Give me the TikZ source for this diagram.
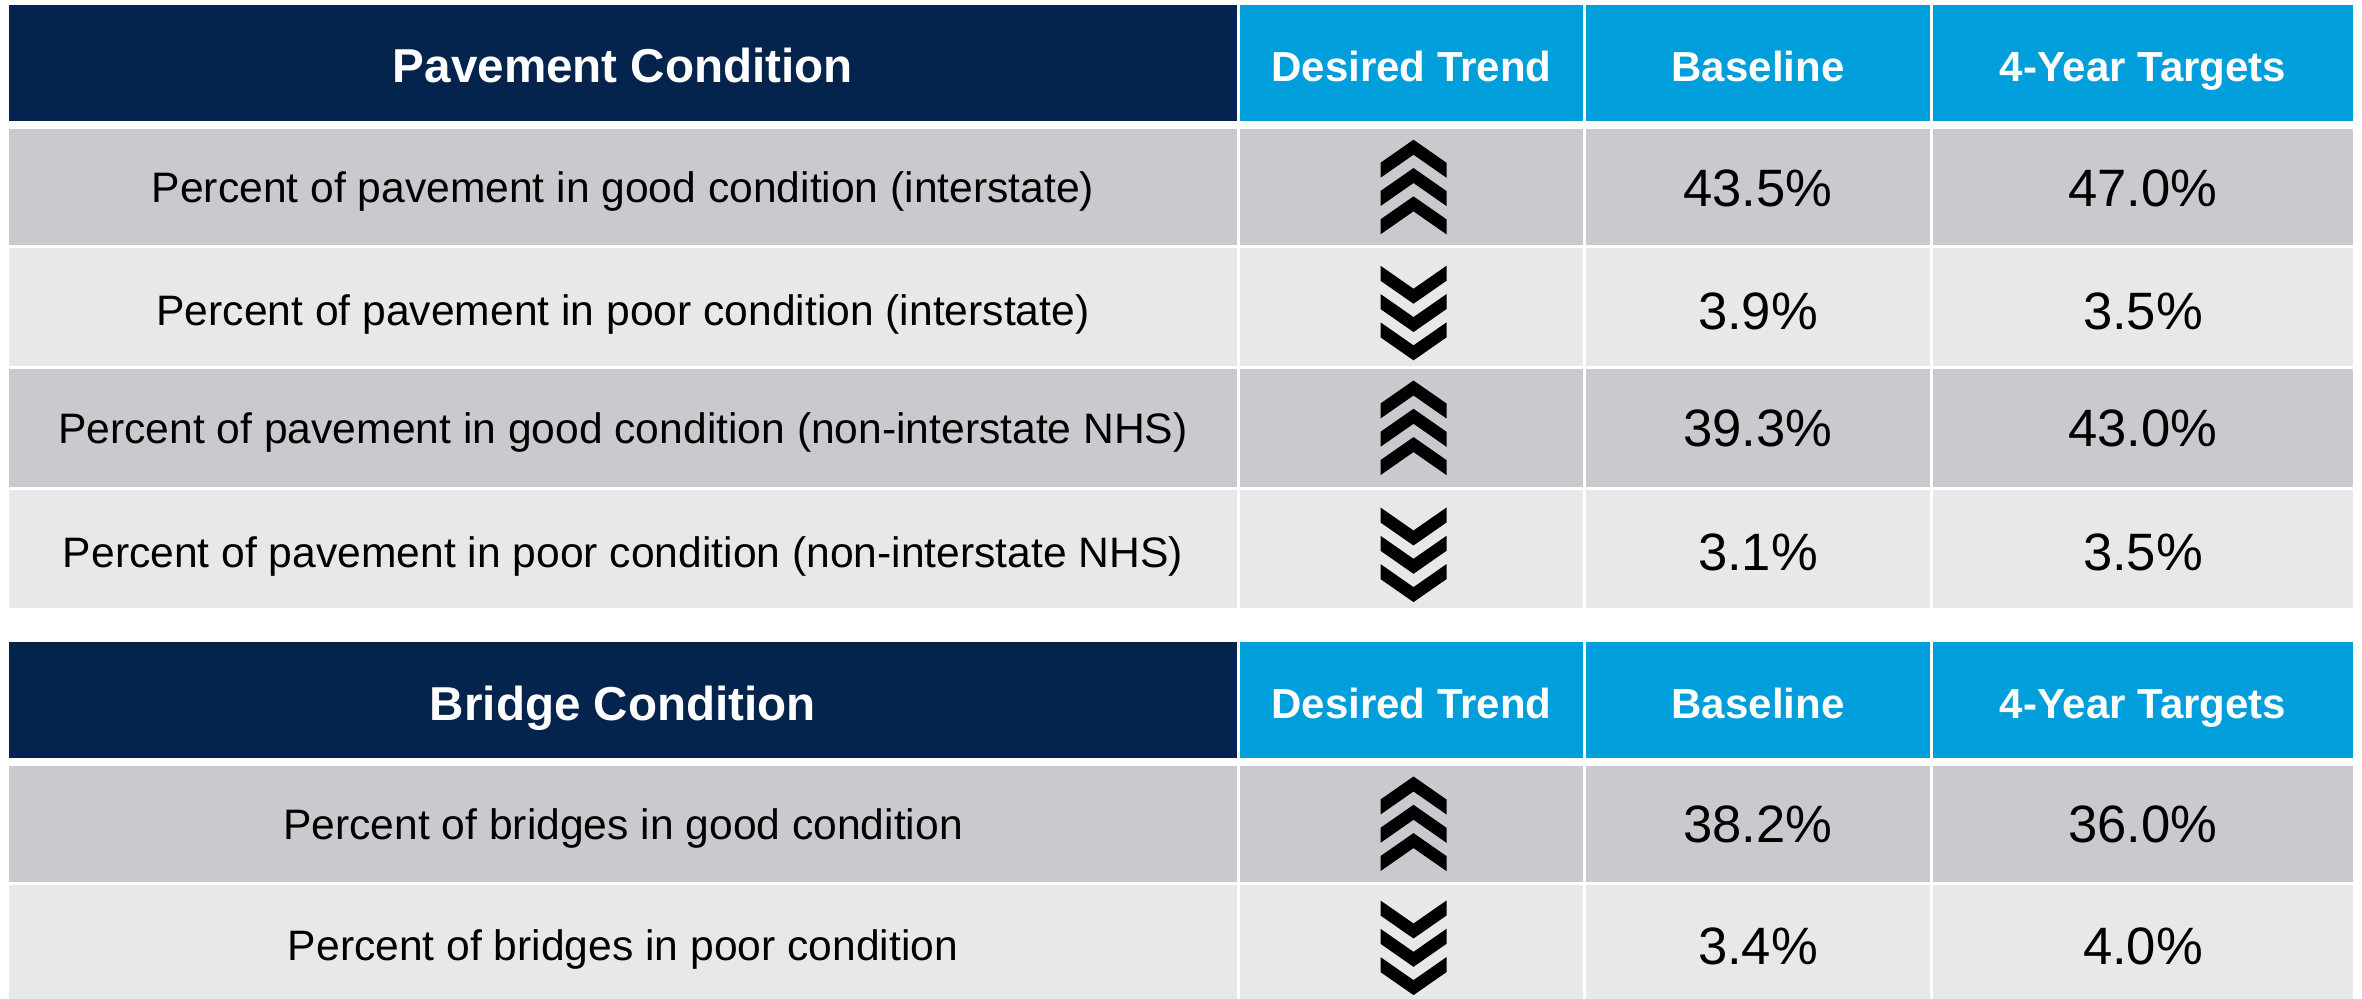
\documentclass[tikz,border=0pt]{standalone}
\usepackage{fontspec}
\setmainfont{Liberation Sans}
\definecolor{navyhd}{RGB}{4,35,77}
\definecolor{cyanhd}{RGB}{0,158,219}
\definecolor{rowdark}{RGB}{201,202,206}
\definecolor{rowlight}{RGB}{231,232,234}
\tikzset{
  cellbox/.style={inner sep=0pt, outer sep=0pt, draw=none, text depth=0pt, align=center},
  mainhead/.style={cellbox, fill=navyhd, text=white, font=\fontsize{23.8}{28}\selectfont\bfseries, text height=20pt},
  colhead/.style={cellbox, fill=cyanhd, text=white, font=\fontsize{21}{25}\selectfont\bfseries, text height=18.3pt},
  bodydark/.style={cellbox, fill=rowdark, text=black, font=\fontsize{21.3}{25}\selectfont, text height=15.25pt},
  bodylight/.style={cellbox, fill=rowlight, text=black, font=\fontsize{21.3}{25}\selectfont, text height=18.5pt},
  numdark/.style={cellbox, fill=rowdark, text=black, font=\fontsize{26.3}{30}\selectfont, text height=18.8pt},
  numlight/.style={cellbox, fill=rowlight, text=black, font=\fontsize{26.3}{30}\selectfont, text height=22pt},
  chevup/.pic={\foreach \k in {0,1,2}{\fill[black] (0,{-47.5+28.3*\k}) -- ++(33,23) -- ++(0,15) -- ++(-33,-23) -- ++(-33,23) -- ++(0,-15) -- cycle;}},
  chevdown/.pic={\foreach \k in {0,1,2}{\fill[black] (-33,{-47.5+28.3*\k}) -- ++(33,23) -- ++(33,-23) -- ++(0,15) -- ++(-33,23) -- ++(-33,-23) -- cycle;}},
}
% name, x1, y1, x2, y2, style, text
\newcommand\mkcell[7]{\node[#6, minimum width={(#4-#2)*0.5pt}, minimum height={(#5-#3)*0.5pt}] (#1) at ({(#2+#4)/2},{(#3+#5)/2}) {#7};}
% row helper: prefix, y1, y2, shade(dark/light), label, base, target
\newcommand\mkrow[7]{%
  \mkcell{#1c0}{9}{#2}{1237}{#3}{body#4}{#5}
  \mkcell{#1c1}{1240}{#2}{1583}{#3}{body#4}{}
  \mkcell{#1c2}{1586}{#2}{1930}{#3}{num#4}{#6}
  \mkcell{#1c3}{1933}{#2}{2353}{#3}{num#4}{#7}
}
\begin{document}
\begin{tikzpicture}[x=0.5pt, y=-0.5pt]
\useasboundingbox[fill=white] (0,0) rectangle (2362,999);
% Table 1: pavement
\mkcell{ahc0}{9}{5}{1237}{121}{mainhead}{Pavement Condition}
\mkcell{ahc1}{1240}{5}{1583}{121}{colhead}{Desired Trend}
\mkcell{ahc2}{1586}{5}{1930}{121}{colhead}{Baseline}
\mkcell{ahc3}{1933}{5}{2353}{121}{colhead}{4-Year Targets}
\mkrow{ar1}{129}{245.5}{dark}{Percent of pavement in good condition (interstate)}{43.5\%}{47.0\%}
\mkrow{ar2}{248.5}{366}{light}{Percent of pavement in poor condition (interstate)}{3.9\%}{3.5\%}
\mkrow{ar3}{369}{487}{dark}{Percent of pavement in good condition (non-interstate NHS)}{39.3\%}{43.0\%}
\mkrow{ar4}{490}{608}{light}{Percent of pavement in poor condition (non-interstate NHS)}{3.1\%}{3.5\%}
% Table 2: bridge
\mkcell{bhc0}{9}{642}{1237}{758}{mainhead}{Bridge Condition}
\mkcell{bhc1}{1240}{642}{1583}{758}{colhead}{Desired Trend}
\mkcell{bhc2}{1586}{642}{1930}{758}{colhead}{Baseline}
\mkcell{bhc3}{1933}{642}{2353}{758}{colhead}{4-Year Targets}
\mkrow{br1}{766}{882}{dark}{Percent of bridges in good condition}{38.2\%}{36.0\%}
\mkrow{br2}{885}{999}{light}{Percent of bridges in poor condition}{3.4\%}{4.0\%}
% trend chevrons
\pic at ([xshift=1pt]ar1c1.center) {chevup};
\pic at ([xshift=1pt,yshift=-3pt]ar2c1.center) {chevdown};
\pic at ([xshift=1pt]ar3c1.center) {chevup};
\pic at ([xshift=1pt,yshift=-3pt]ar4c1.center) {chevdown};
\pic at ([xshift=1pt]br1c1.center) {chevup};
\pic at ([xshift=1pt,yshift=-3pt]br2c1.center) {chevdown};
\end{tikzpicture}
\end{document}
